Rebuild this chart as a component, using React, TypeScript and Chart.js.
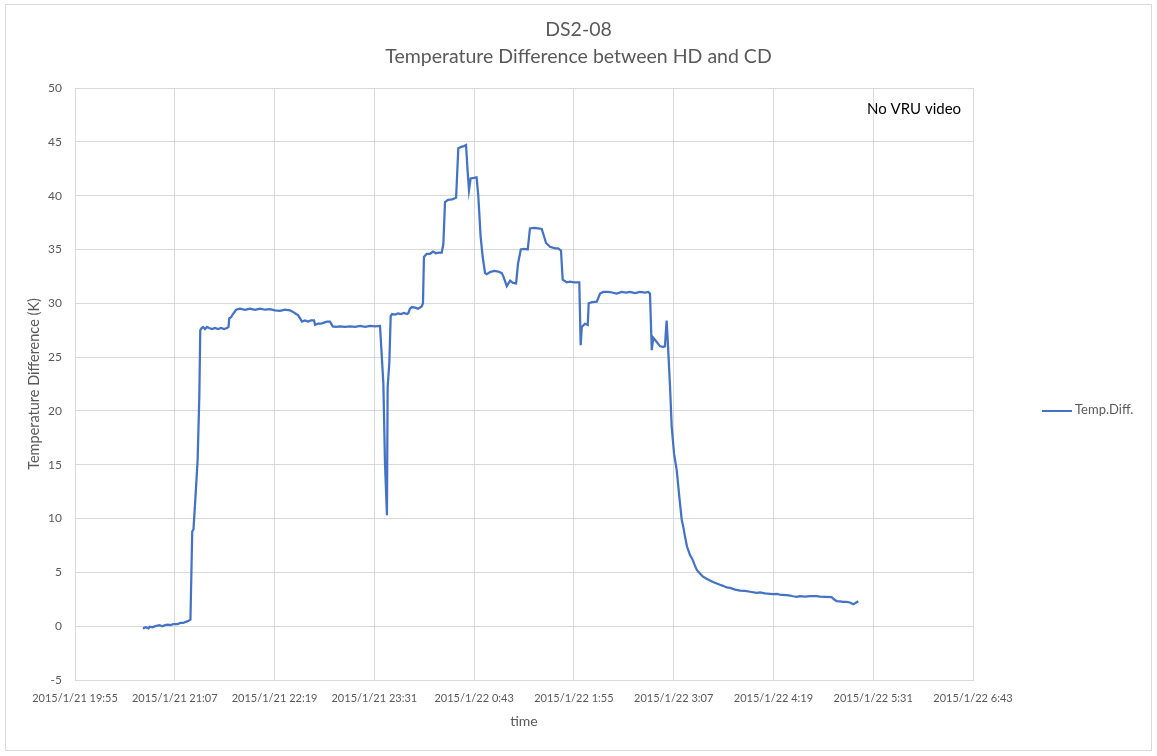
import React, { useEffect, useRef } from "react";
import { Chart, registerables } from "chart.js";

Chart.register(...registerables);

const FONT = "Lato, 'Open Sans', sans-serif";

// minutes elapsed since 2015/1/21 19:55
const minutes: number[] = [
  49, 51, 53, 54, 56, 58, 61, 63, 65, 67, 69, 71, 74, 76, 78, 80, 82, 83.3,
  84.6, 85.5, 87.3, 88.5, 89.7, 90.4, 91.4, 92.4, 93.8, 95.3, 96.7, 98.9, 101, 103.2, 105.4, 107.5, 109.7, 110.8,
  111.3, 112.6, 114, 116.2, 119.1, 122.7, 126.3, 129.9, 133.5, 137.1, 140.7, 144.3, 147.9, 151.5, 155.1, 157.3, 159.5, 160.9,
  162.4, 163.8, 166, 168.1, 170.3, 172.5, 173.2, 175.4, 177.5, 179.7, 181.9, 184, 186, 188.3, 191.2, 194.8, 198.5, 202.1,
  205.7, 209.3, 212.9, 216.5, 220.1, 220.8, 222.5, 223.7, 225.1, 225.6, 226.8, 227.8, 228.8, 230.9, 233.1, 235.2, 237.4, 239.6,
  240.6, 241.7, 243.2, 245.3, 247.5, 250.2, 251.1, 251.8, 253.8, 256.2, 258.3, 260.5, 262.7, 264.6, 265.8, 267, 269.2, 272.1,
  275, 276.6, 279.1, 280.7, 282.2, 283.2, 284.3, 285.5, 287.9, 289.8, 291, 292.7, 294.2, 295.9, 297.1, 299.5, 302.4, 305.5,
  308, 309.1, 311.6, 314, 316.1, 318.3, 319.7, 321.7, 324, 326.7, 328.3, 331.2, 334.1, 336.8, 338.5, 339.9, 342.8, 346.4,
  348.6, 350.7, 351.9, 354.8, 357.2, 360.1, 363.9, 364.9, 365.7, 368, 370, 370.7, 373.1, 376.5, 378.9, 381.2, 384.6, 387.5,
  390.9, 394.5, 397.6, 400.5, 404.1, 407.7, 411.3, 413.7, 414.9, 416.2, 417.3, 419.8, 422.2, 424.5, 425.7, 426.9, 427.7, 429.4,
  430.6, 432.3, 434.2, 436.1, 437.8, 439, 440.2, 441.6, 443.8, 445.6, 447.4, 448.8, 451, 453.2, 455.8, 458.2, 460.4, 463.1,
  465.4, 467.6, 470.3, 472.7, 476.3, 479.9, 483.5, 487.1, 491.9, 494.3, 497.9, 501.5, 503.9, 506.6, 509.5, 513.6, 516, 518.1,
  520.8, 523.2, 526.8, 530.4, 535.2, 537.6, 541.2, 546, 547.7, 549.6, 552, 554.2, 556.8, 559.2, 561.6, 563.2, 565.2,
];

// Temp.Diff. (K)
const tempDiff: number[] = [
  -0.2, -0.1, -0.2, -0.05, -0.1, 0.0, 0.1, 0.0, 0.1, 0.15, 0.1, 0.2, 0.2, 0.3, 0.3, 0.4, 0.5, 0.6,
  8.8, 9.0, 12.8, 15.5, 21.3, 27.5, 27.7, 27.8, 27.6, 27.8, 27.7, 27.6, 27.7, 27.6, 27.7, 27.6, 27.7, 27.8,
  28.6, 28.7, 29.0, 29.4, 29.5, 29.4, 29.5, 29.4, 29.5, 29.4, 29.45, 29.35, 29.3, 29.4, 29.35, 29.2, 29.0, 28.9,
  28.6, 28.3, 28.4, 28.3, 28.4, 28.4, 28.0, 28.1, 28.1, 28.2, 28.3, 28.3, 27.85, 27.8, 27.85, 27.8, 27.85, 27.8,
  27.9, 27.8, 27.9, 27.85, 27.9, 27.9, 22.6, 15.1, 10.3, 22.2, 24.4, 28.8, 29.0, 28.95, 29.05, 29.0, 29.1, 29.0,
  29.1, 29.5, 29.65, 29.6, 29.5, 29.7, 30.0, 34.3, 34.6, 34.6, 34.8, 34.65, 34.7, 34.7, 35.5, 39.4, 39.6, 39.65,
  39.8, 44.4, 44.55, 44.6, 44.7, 42.5, 40.5, 41.6, 41.65, 41.7, 40.0, 36.2, 34.3, 32.8, 32.7, 32.9, 33.0, 32.95,
  32.8, 32.5, 31.6, 32.1, 31.9, 31.85, 33.7, 35.0, 35.05, 35.0, 36.95, 37.0, 36.95, 36.9, 36.2, 35.6, 35.25, 35.1,
  35.1, 34.9, 32.2, 31.95, 32.0, 31.95, 31.95, 26.1, 27.8, 28.1, 28.0, 30.0, 30.1, 30.15, 30.9, 31.05, 31.05, 31.0,
  30.9, 31.05, 31.0, 31.05, 30.95, 31.05, 31.0, 31.05, 30.9, 25.65, 26.8, 26.4, 26.0, 25.95, 26.0, 28.4, 26.6, 22.2,
  18.5, 16.0, 14.5, 12.0, 9.9, 9.2, 8.3, 7.4, 6.6, 6.2, 5.6, 5.2, 4.9, 4.6, 4.4, 4.25, 4.1, 3.97,
  3.85, 3.75, 3.6, 3.55, 3.4, 3.3, 3.28, 3.2, 3.1, 3.15, 3.05, 3.0, 2.97, 3.0, 2.9, 2.88, 2.85, 2.78,
  2.73, 2.8, 2.75, 2.8, 2.79, 2.75, 2.73, 2.7, 2.5, 2.32, 2.3, 2.25, 2.26, 2.2, 2.04, 2.15, 2.32,
];

const tickLabels: string[] = [
  "2015/1/21 19:55",
  "2015/1/21 21:07",
  "2015/1/21 22:19",
  "2015/1/21 23:31",
  "2015/1/22 0:43",
  "2015/1/22 1:55",
  "2015/1/22 3:07",
  "2015/1/22 4:19",
  "2015/1/22 5:31",
  "2015/1/22 6:43",
];

const chartTitle: string[] = ["DS2-08", "Temperature Difference between HD and CD"];
const seriesLabel = "Temp.Diff.";
const noteText = "No VRU video";
const xTitle = "time";
const yTitle = "Temperature Difference (K)";

export default function App() {
  const ref = useRef<HTMLCanvasElement>(null);

  useEffect(() => {
    if (!ref.current) return;
    const points = minutes.map((m, i) => ({ x: m, y: tempDiff[i] }));

    const overlay = {
      id: "overlay",
      beforeDraw(chart: any) {
        const ctx = chart.ctx;
        ctx.save();
        ctx.fillStyle = "#ffffff";
        ctx.fillRect(0, 0, chart.width, chart.height);
        ctx.strokeStyle = "#d9d9d9";
        ctx.lineWidth = 1;
        ctx.strokeRect(5.5, 4.5, 1146, 746);
        ctx.restore();
      },
      afterDraw(chart: any) {
        const ctx = chart.ctx;
        const ds = chart.data.datasets[0];
        ctx.save();
        // chart title, centred on the whole chart
        ctx.fillStyle = "#595959";
        ctx.font = `19.5px ${FONT}`;
        ctx.textAlign = "center";
        ctx.textBaseline = "middle";
        ctx.fillText(chartTitle[0], 578.5, 30);
        ctx.fillText(chartTitle[1], 578.5, 57);
        // annotation
        ctx.fillStyle = "#000000";
        ctx.font = `15px ${FONT}`;
        ctx.textAlign = "left";
        ctx.fillText(noteText, 867, 109);
        // legend
        ctx.strokeStyle = ds.borderColor;
        ctx.lineWidth = 2;
        ctx.beginPath();
        ctx.moveTo(1042, 411);
        ctx.lineTo(1072, 411);
        ctx.stroke();
        ctx.fillStyle = "#595959";
        ctx.font = `13px ${FONT}`;
        ctx.fillText(ds.label, 1075, 410);
        ctx.restore();
      },
    };

    const chart = new Chart(ref.current, {
      type: "line",
      data: {
        datasets: [
          {
            label: seriesLabel,
            data: points,
            borderColor: "#4472C4",
            backgroundColor: "#4472C4",
            borderWidth: 2.25,
            pointRadius: 0,
            fill: false,
            tension: 0,
          },
        ],
      },
      options: {
        responsive: false,
        animation: false,
        layout: { padding: { left: 22, right: 184, top: 88, bottom: 22 } },
        plugins: {
          legend: { display: false },
          tooltip: { enabled: false },
          title: { display: false },
        },
        scales: {
          x: {
            type: "linear",
            min: 0,
            max: 648,
            ticks: {
              stepSize: 72,
              autoSkip: false,
              maxRotation: 0,
              padding: 12,
              color: "#595959",
              font: { family: FONT, size: 11 },
              callback: (v: any) => tickLabels[Math.round(Number(v) / 72)] ?? "",
            },
            grid: { color: "#d9d9d9", drawTicks: false },
            border: { color: "#d9d9d9" },
            title: {
              display: true,
              text: xTitle,
              color: "#595959",
              font: { family: FONT, size: 14 },
              padding: { top: 4, bottom: 4 },
            },
            afterFit(s: any) {
              s.height = 54;
            },
          },
          y: {
            min: -5,
            max: 50,
            ticks: {
              stepSize: 5,
              padding: 13,
              color: "#595959",
              font: { family: FONT, size: 12 },
            },
            grid: { color: "#d9d9d9", drawTicks: false },
            border: { display: false },
            title: {
              display: true,
              text: yTitle,
              color: "#595959",
              font: { family: FONT, size: 14.5 },
              padding: { top: 4, bottom: 4 },
            },
            afterFit(s: any) {
              s.width = 53;
            },
          },
        },
      },
      plugins: [overlay],
    } as any);

    return () => chart.destroy();
  }, []);

  return (
    <div style={{ position: "absolute", left: 0, top: 0, width: 1157, height: 756 }}>
      <canvas ref={ref} width={1157} height={756} style={{ display: "block" }} />
    </div>
  );
}
